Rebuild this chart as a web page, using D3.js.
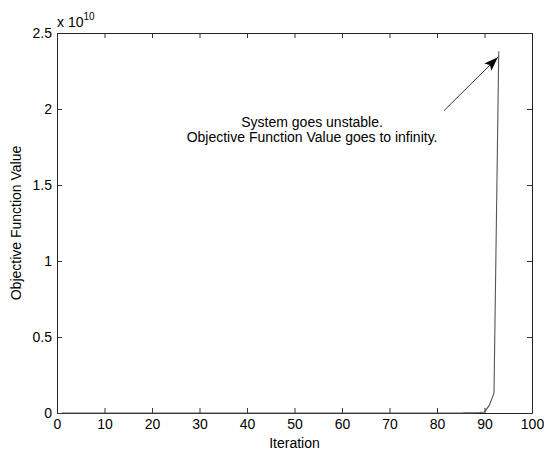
<!DOCTYPE html>
<html>
<head>
<meta charset="utf-8">
<script src="https://cdn.jsdelivr.net/npm/d3@7"></script>
<style>
  body { margin: 0; background: #fff; }
  text { font-family: "Liberation Sans", Arial, Helvetica, sans-serif; }
</style>
</head>
<body>
<div id="chart"></div>
<script>
// iterations 1..93, objective value in units of 1e10
const iterations = [
  1, 2, 3, 4, 5, 6, 7, 8, 9, 10, 11, 12, 13, 14, 15, 16, 17, 18, 19, 20,
  21, 22, 23, 24, 25, 26, 27, 28, 29, 30, 31, 32, 33, 34, 35, 36, 37, 38, 39, 40,
  41, 42, 43, 44, 45, 46, 47, 48, 49, 50, 51, 52, 53, 54, 55, 56, 57, 58, 59, 60,
  61, 62, 63, 64, 65, 66, 67, 68, 69, 70, 71, 72, 73, 74, 75, 76, 77, 78, 79, 80,
  81, 82, 83, 84, 85, 86, 87, 88, 89, 90, 91, 92, 93
];
const objValues = [
  0, 0, 0, 0, 0, 0, 0, 0, 0, 0, 0, 0, 0, 0, 0, 0, 0, 0, 0, 0,
  0, 0, 0, 0, 0, 0, 0, 0, 0, 0, 0, 0, 0, 0, 0, 0, 0, 0, 0, 0,
  0, 0, 0, 0, 0, 0, 0, 0, 0, 0, 0, 0, 0, 0, 0, 0, 0, 0, 0, 0,
  0, 0, 0, 0, 0, 0, 0, 0, 0, 0, 0, 0, 0, 0, 0, 0, 0, 0, 0, 0,
  0, 0, 0, 0, 0, 0.001, 0.001, 0.002, 0.003, 0.007, 0.05, 0.13, 2.38
];

const xTicks = [0, 10, 20, 30, 40, 50, 60, 70, 80, 90, 100];
const yTicks = [0, 0.5, 1, 1.5, 2, 2.5];
const yTickLabels = ['0', '0.5', '1', '1.5', '2', '2.5'];

const annotationLines = ['System goes unstable.', 'Objective Function Value goes to infinity.'];

const MARGIN = {TOP: 33, BOTTOM: 39, LEFT: 57, RIGHT: 12};
const W = 544, H = 452;
const WIDTH = W - MARGIN.LEFT - MARGIN.RIGHT;
const HEIGHT = H - MARGIN.TOP - MARGIN.BOTTOM;
const FONT = '14px';

const svg = d3.select('#chart').append('svg')
  .attr('width', W)
  .attr('height', H);

const defs = svg.append('defs');
defs.append('marker')
  .attr('id', 'arrow')
  .attr('viewBox', '0 0 14 10')
  .attr('refX', 14)
  .attr('refY', 5)
  .attr('markerWidth', 14)
  .attr('markerHeight', 10)
  .attr('markerUnits', 'userSpaceOnUse')
  .attr('orient', 'auto')
  .append('path')
    .attr('d', 'M0,0 L14,5 L0,10 L3,5 Z')
    .attr('fill', '#000');

const g = svg.append('g')
  .attr('transform', `translate(${MARGIN.LEFT}, ${MARGIN.TOP})`);

const x = d3.scaleLinear().domain([0, 100]).range([0, WIDTH]);
const y = d3.scaleLinear().domain([0, 2.5]).range([HEIGHT, 0]);

// axes, matlab style: ticks inside, box on all sides
const fmtY = v => yTickLabels[yTicks.indexOf(v)];

const xAxis = g.append('g')
  .attr('transform', `translate(0, ${HEIGHT})`)
  .call(d3.axisBottom(x).tickValues(xTicks).tickSizeInner(-5).tickSizeOuter(0).tickPadding(6));

const yAxis = g.append('g')
  .call(d3.axisLeft(y).tickValues(yTicks).tickFormat(fmtY).tickSizeInner(-5).tickSizeOuter(0).tickPadding(5));

const topAxis = g.append('g')
  .call(d3.axisTop(x).tickValues(xTicks).tickSizeInner(-5).tickSizeOuter(0).tickFormat(''));

const rightAxis = g.append('g')
  .attr('transform', `translate(${WIDTH}, 0)`)
  .call(d3.axisRight(y).tickValues(yTicks).tickSizeInner(-5).tickSizeOuter(0).tickFormat(''));

[xAxis, yAxis, topAxis, rightAxis].forEach(a => {
  a.select('.domain').attr('stroke', '#222');
  a.selectAll('.tick line').attr('stroke', '#333');
  a.selectAll('.tick text')
    .attr('fill', '#000')
    .style('font-size', FONT)
    .style('font-family', '"Liberation Sans", Arial, sans-serif');
});

// data line
const line = d3.line()
  .x(d => x(d[0]))
  .y(d => y(d[1]));

g.append('path')
  .datum(iterations.map((it, i) => [it, objValues[i]]))
  .attr('d', line)
  .attr('fill', 'none')
  .attr('stroke', '#555')
  .attr('stroke-width', 1.1);

// annotation
const note = g.append('text')
  .attr('x', x(53.7))
  .attr('y', y(1.88))
  .attr('text-anchor', 'middle')
  .style('font-size', FONT)
  .attr('fill', '#000');

note.selectAll('tspan')
  .data(annotationLines)
  .enter().append('tspan')
    .attr('x', x(53.7))
    .attr('dy', (d, i) => i === 0 ? 0 : 15)
    .text(d => d);

g.append('line')
  .attr('x1', x(81.5))
  .attr('y1', y(1.99))
  .attr('x2', x(92.8))
  .attr('y2', y(2.34))
  .attr('stroke', '#222')
  .attr('stroke-width', 0.9)
  .attr('marker-end', 'url(#arrow)');

// exponent label
const expo = svg.append('text')
  .attr('x', MARGIN.LEFT)
  .attr('y', MARGIN.TOP - 6)
  .style('font-size', FONT)
  .attr('fill', '#000');
expo.append('tspan').text('x 10');
expo.append('tspan')
  .attr('dy', -7)
  .style('font-size', '10px')
  .text('10');

// axis labels
svg.append('text')
  .attr('x', MARGIN.LEFT + WIDTH / 2)
  .attr('y', H - 4)
  .attr('text-anchor', 'middle')
  .style('font-size', FONT)
  .text('Iteration');

svg.append('text')
  .attr('transform', `translate(21, ${MARGIN.TOP + HEIGHT / 2}) rotate(-90)`)
  .attr('text-anchor', 'middle')
  .style('font-size', FONT)
  .text('Objective Function Value');
</script>
</body>
</html>
